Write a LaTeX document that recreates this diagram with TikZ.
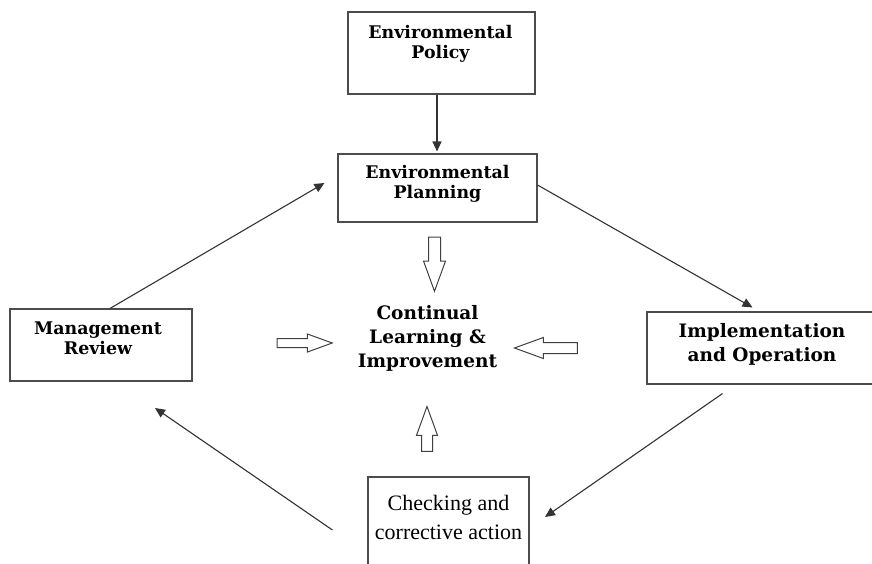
\documentclass[tikz,border=0pt]{standalone}
\usepackage{fontspec}
\setmainfont{Liberation Serif}
\newfontfamily\slab{DejaVu Serif}
\usetikzlibrary{shapes.arrows,arrows.meta}

\begin{document}
\begin{tikzpicture}[x=1pt,y=-1pt,
    boxnode/.style={draw=black!70, line width=1.1pt, inner sep=0pt},
    textnode/.style={align=center, inner sep=0pt, font=\slab\bfseries\fontsize{17.4}{20}\selectfont},
    bignode/.style={align=center, inner sep=0pt, font=\slab\bfseries\fontsize{18.5}{24}\selectfont},
    blockarrow/.style={single arrow, draw=black!75, line width=1pt, single arrow tip angle=40}]
            \useasboundingbox (0,0) rectangle (872,563);
            \clip (0,0) rectangle (872,563);

            % boxes
            \node[boxnode, minimum width=187, minimum height=82] (pol) at (441.5,53) {};
            \node[boxnode, minimum width=199, minimum height=68] (pln) at (437.5,188) {};
            \node[boxnode, minimum width=182, minimum height=72] (mr) at (101,345) {};
            \node[boxnode, minimum width=231, minimum height=72] (imp) at (762.5,348) {};
            \node[boxnode, minimum width=161, minimum height=88] (chk) at (448.5,521) {};

            % texts
            \node[textnode] (poltext) at (440.5,44) {Environmental\\Policy};
            \node[textnode] (plntext) at (437.5,184) {Environmental\\Planning};
            \node[textnode] (mrtext) at (98,338) {Management\\Review};
            \node[bignode] (imptext) at (762,344) {Implementation\\and Operation};
            \node[bignode] (cont) at (427.5,338) {Continual\\Learning \&\\Improvement};
            \node[align=center, inner sep=0pt, font=\fontsize{22}{29}\selectfont] (chktext) at (448.5,517) {Checking and\\corrective action};

            % block arrows
            \node[blockarrow, inner xsep=5.5pt, inner ysep=0pt, minimum height=54, single arrow head extend=5, shape border rotate=270] (dn) at (434.5,256) {};
            \node[blockarrow, inner xsep=5pt, inner ysep=0pt, minimum height=45, single arrow head extend=5, shape border rotate=90] (up) at (427,436.5) {};
            \node[blockarrow, inner xsep=0pt, inner ysep=4pt, minimum height=55, single arrow head extend=4.5, shape border rotate=0] (rt) at (298.5,343) {};
            \node[blockarrow, inner xsep=0pt, inner ysep=5pt, minimum height=63, single arrow head extend=5, shape border rotate=180] (lt) at (553.5,348) {};

            \coordinate (mrin) at (155,408);
            \coordinate (chkin) at (545,517);

            \tikzset{link/.style={-{Triangle[length=10pt,width=9pt]}, draw=black!80, line width=1.1pt}}

            \draw[link] ([xshift=-4.5pt]pol.south) -- ([xshift=-0.5pt,yshift=2pt]pln.north);
            \draw[link] ([xshift=9pt]mr.north) -- ([xshift=-13pt,yshift=5pt]pln.west);
            \draw[link] ([yshift=3pt]pln.east) -- ([xshift=-10pt,yshift=4pt]imp.north);
            \draw[link] ([xshift=-40pt,yshift=-9pt]imp.south) -- (chkin);
            \draw[link] ([xshift=-35pt,yshift=-9pt]chk.west) -- (mrin);

        \end{tikzpicture}
\end{document}
